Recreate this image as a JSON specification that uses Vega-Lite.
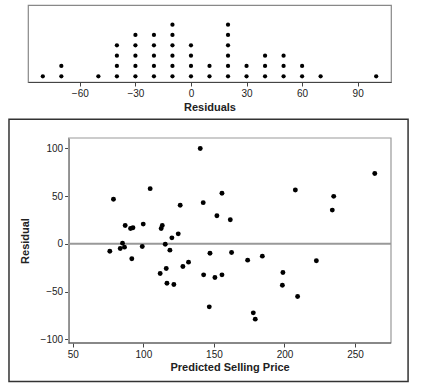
{
  "$schema": "https://vega.github.io/schema/vega-lite/v6.json",
  "padding": {"left": 8, "top": 4, "right": 5, "bottom": 2},
  "background": "white",
  "spacing": 5,
  "datasets": {
    "dots": [
      {"r": -80},
      {"r": -70}, {"r": -70},
      {"r": -50},
      {"r": -40}, {"r": -40}, {"r": -40}, {"r": -40},
      {"r": -30}, {"r": -30}, {"r": -30}, {"r": -30}, {"r": -30},
      {"r": -20}, {"r": -20}, {"r": -20}, {"r": -20}, {"r": -20},
      {"r": -10}, {"r": -10}, {"r": -10}, {"r": -10}, {"r": -10}, {"r": -10},
      {"r": 0}, {"r": 0}, {"r": 0}, {"r": 0},
      {"r": 10}, {"r": 10},
      {"r": 20}, {"r": 20}, {"r": 20}, {"r": 20}, {"r": 20}, {"r": 20},
      {"r": 30}, {"r": 30},
      {"r": 40}, {"r": 40}, {"r": 40},
      {"r": 50}, {"r": 50}, {"r": 50},
      {"r": 60}, {"r": 60},
      {"r": 70},
      {"r": 100}
    ],
    "pts": [
      {"pred": 140.3, "resid": 100}, {"pred": 264, "resid": 73.7}, {"pred": 78.8, "resid": 46.7},
      {"pred": 104.8, "resid": 57.9}, {"pred": 207.7, "resid": 56.5}, {"pred": 234.9, "resid": 49.8},
      {"pred": 233.9, "resid": 35.4}, {"pred": 142.4, "resid": 43.2}, {"pred": 155.7, "resid": 53},
      {"pred": 126.1, "resid": 40.4}, {"pred": 152.1, "resid": 29.5}, {"pred": 161.6, "resid": 25.3},
      {"pred": 87.1, "resid": 19.3}, {"pred": 90.9, "resid": 16.1}, {"pred": 92.6, "resid": 16.8},
      {"pred": 99.9, "resid": 20.7}, {"pred": 112.6, "resid": 16.1}, {"pred": 113.4, "resid": 19.3},
      {"pred": 124.7, "resid": 10.5}, {"pred": 120.2, "resid": 6.3}, {"pred": 115.5, "resid": -0.4},
      {"pred": 85.2, "resid": 0.7},
      {"pred": 76.2, "resid": -7.7}, {"pred": 83.6, "resid": -4.9}, {"pred": 86.6, "resid": -3.5},
      {"pred": 91.8, "resid": -15.7}, {"pred": 99.2, "resid": -2.8}, {"pred": 118.8, "resid": -6.6},
      {"pred": 111.9, "resid": -31.1}, {"pred": 116.2, "resid": -25.9}, {"pred": 116.7, "resid": -41.3},
      {"pred": 121.6, "resid": -42.7}, {"pred": 128, "resid": -23.8}, {"pred": 132, "resid": -19.2},
      {"pred": 142.7, "resid": -32.5}, {"pred": 147.2, "resid": -9.8}, {"pred": 146.7, "resid": -66.1},
      {"pred": 150.7, "resid": -35.3}, {"pred": 155.7, "resid": -32.5}, {"pred": 162.5, "resid": -9.1},
      {"pred": 173.9, "resid": -17.1}, {"pred": 177.9, "resid": -72.4}, {"pred": 179.3, "resid": -79},
      {"pred": 184.3, "resid": -12.9}, {"pred": 198.9, "resid": -30.1}, {"pred": 198.5, "resid": -43.4},
      {"pred": 209.3, "resid": -55.2}, {"pred": 222.6, "resid": -17.8}
    ]
  },
  "vconcat": [
    {
      "width": 363,
      "height": 77,
      "data": {"name": "dots"},
      "transform": [{"window": [{"op": "row_number", "as": "level"}], "groupby": ["r"]}],
      "mark": {"type": "circle", "size": 18, "color": "black", "opacity": 1},
      "encoding": {
        "x": {
          "field": "r", "type": "quantitative",
          "scale": {"domain": [-88, 108], "nice": false, "zero": false},
          "axis": {"values": [-60, -30, 0, 30, 60, 90], "title": "Residuals", "grid": false, "titlePadding": 3}
        },
        "y": {
          "field": "level", "type": "quantitative",
          "scale": {"domain": [0.45, 7.9], "nice": false, "zero": false},
          "axis": null
        }
      }
    },
    {
      "width": 363,
      "height": 205,
      "view": {"stroke": null},
      "layer": [
        {
          "data": {"values": [{}]},
          "mark": {"type": "rect", "filled": false, "stroke": "#333", "strokeWidth": 1.5, "clip": false},
          "encoding": {
            "x": {
              "datum": 4.75, "type": "quantitative",
              "scale": {"domain": [18.22, 275.5], "nice": false, "zero": false},
              "axis": {"values": [50, 100, 150, 200, 250], "title": "Predicted Selling Price", "grid": false, "domain": false, "titlePadding": 2, "titleX": 201.6}
            },
            "x2": {"datum": 287.6},
            "y": {
              "datum": 130.7, "type": "quantitative",
              "scale": {"domain": [-104, 111], "nice": false, "zero": false},
              "axis": {"values": [-100, -50, 0, 50, 100], "title": "Residual", "grid": false, "titlePadding": 10, "offset": -40.6}
            },
            "y2": {"datum": -144.5}
          }
        },
        {
          "data": {"values": [{}]},
          "mark": {"type": "rect", "filled": false, "stroke": "#999", "strokeWidth": 1.2},
          "encoding": {
            "x": {"datum": 47, "type": "quantitative"},
            "x2": {"datum": 275.5},
            "y": {"datum": 111, "type": "quantitative"},
            "y2": {"datum": -104}
          }
        },
        {
          "data": {"values": [{}]},
          "mark": {"type": "rule", "color": "#999", "strokeWidth": 2},
          "encoding": {
            "x": {"datum": 47, "type": "quantitative"},
            "x2": {"datum": 275.5},
            "y": {"datum": 0, "type": "quantitative"}
          }
        },
        {
          "data": {"values": [{}]},
          "mark": {"type": "rule", "color": "#444", "strokeWidth": 1},
          "encoding": {
            "x": {"datum": 47, "type": "quantitative"},
            "x2": {"datum": 275.5},
            "y": {"datum": -104, "type": "quantitative"}
          }
        },
        {
          "data": {"name": "pts"},
          "mark": {"type": "circle", "size": 24, "color": "black", "opacity": 1},
          "encoding": {
            "x": {"field": "pred", "type": "quantitative"},
            "y": {"field": "resid", "type": "quantitative"}
          }
        }
      ]
    }
  ],
  "config": {
    "font": "Liberation Sans",
    "view": {"stroke": "#888", "strokeWidth": 1.2},
    "axis": {
      "domainColor": "#444",
      "tickColor": "#444",
      "tickSize": 4,
      "labelFontSize": 10,
      "labelColor": "#222",
      "labelFont": "Liberation Sans",
      "labelPadding": 2,
      "titleFont": "Liberation Sans",
      "titleFontSize": 11,
      "titleFontWeight": "bold",
      "titleColor": "#222"
    }
  }
}
